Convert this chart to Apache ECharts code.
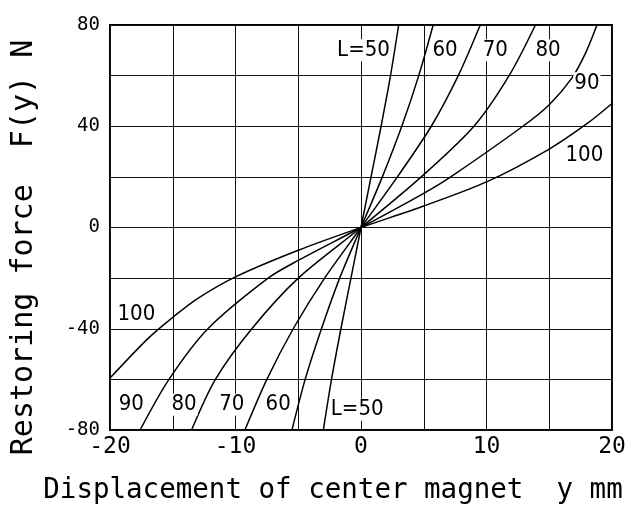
<!DOCTYPE html>
<html>
<head>
<meta charset="utf-8">
<script src="https://cdn.jsdelivr.net/npm/echarts@6/dist/echarts.min.js"></script>
<style>
  html, body { margin: 0; padding: 0; background: #fff; }
  #chart { width: 629px; height: 510px; }
</style>
</head>
<body>
<div id="chart"></div>
<script>
// Axis ranges and tick labels
const xRange = [-20, 20];
const yRange = [-80, 80];
const xTickLabels = [-20, -10, 0, 10, 20];
const yTickLabels = [-80, -40, 0, 40, 80];

// Curves: [displacement y (mm), restoring force F(y) (N)]
const curveL50 = [[-3.0, -80], [-2.35, -60], [-1.6, -40], [-0.8, -20], [0, 0], [0.8, 20], [1.6, 40], [2.35, 60], [3.0, 80]];
const curveL60 = [[-5.5, -80], [-4.45, -60], [-3.15, -40], [-1.7, -20], [0, 0], [1.7, 20], [3.25, 40], [4.6, 60], [5.75, 80]];
const curveL70 = [[-9.25, -80], [-7.5, -60], [-5.4, -40], [-2.9, -20], [0, 0], [2.9, 20], [5.6, 40], [7.75, 60], [9.5, 80]];
const curveL80 = [[-13.5, -80], [-11.6, -60], [-8.7, -40], [-5, -20], [0, 0], [4.8, 20], [9.0, 40], [11.8, 60], [13.9, 80]];
const curveL90 = [[-17.6, -80], [-15.3, -60], [-12.2, -40], [-7.4, -20], [-5, -13], [0, 0], [5, 13.5], [7, 19.5], [12.9, 40], [15, 48.5], [16.8, 59], [17.9, 69], [18.8, 80]];
const curveL100 = [[-20, -59.5], [-17, -44], [-15, -35.5], [-13, -28], [-10, -19.5], [-5, -9], [0, 0], [5, 8.5], [10, 18], [15, 31], [18, 41], [20, 49]];

// Curve annotations: [x, y, text]
const curveLabels = [
  [0.2, 70, 'L=50'], [6.7, 70, '60'], [10.7, 70, '70'], [14.9, 70, '80'], [18.0, 57, '90'], [17.8, 28.7, '100'],
  [-17.9, -34.2, '100'], [-18.3, -70, '90'], [-14.1, -70, '80'], [-10.3, -70, '70'], [-6.6, -70, '60'], [-0.3, -72, 'L=50']
];

const xTitle = 'Displacement of center magnet  y mm';
const yTitle = 'Restoring force  F(y) N';

const MONO = "'DejaVu Sans Mono', 'Liberation Mono', monospace";
const NARROW = "'Liberation Sans Narrow', 'DejaVu Sans Condensed', 'Roboto Condensed', 'Liberation Sans', sans-serif";

const chart = echarts.init(document.getElementById('chart'), null, { renderer: 'canvas' });

function curve(name, data) {
  return {
    name: name, type: 'line', data: data, smooth: 0.3,
    showSymbol: false, symbol: 'none',
    lineStyle: { color: '#000', width: 1.5 }, z: 3, silent: true
  };
}

const option = {
  backgroundColor: '#fff',
  animation: false,
  grid: { left: 110, right: 17, top: 25, bottom: 80, show: true, borderColor: '#000', borderWidth: 2, backgroundColor: 'transparent' },
  xAxis: {
    type: 'value', min: xRange[0], max: xRange[1], interval: 5,
    axisLine: { show: false, onZero: false },
    axisTick: { show: false },
    splitLine: { show: true, lineStyle: { color: '#111', width: 1 } },
    axisLabel: {
      margin: 6, color: '#000', fontFamily: MONO, fontSize: 23,
      formatter: v => xTickLabels.indexOf(v) >= 0 ? String(v) : ''
    },
    name: xTitle, nameLocation: 'middle', nameGap: 47,
    nameTextStyle: { fontFamily: MONO, fontSize: 27.5, color: '#000', padding: [0, 56, 0, 0] }
  },
  yAxis: {
    type: 'value', min: yRange[0], max: yRange[1], interval: 20,
    axisLine: { show: false, onZero: false },
    axisTick: { show: false },
    splitLine: { show: true, lineStyle: { color: '#111', width: 1 } },
    axisLabel: {
      margin: 10, color: '#000', fontFamily: MONO, fontSize: 19,
      formatter: v => yTickLabels.indexOf(v) >= 0 ? String(v) : ''
    },
    name: yTitle, nameLocation: 'middle', nameGap: 71,
    nameTextStyle: { fontFamily: MONO, fontSize: 30, color: '#000', padding: [0, 40, 0, 0] }
  },
  series: [
    curve('L=50', curveL50),
    curve('L=60', curveL60),
    curve('L=70', curveL70),
    curve('L=80', curveL80),
    curve('L=90', curveL90),
    curve('L=100', curveL100),
    {
      name: 'labels', type: 'scatter', symbolSize: 0, z: 5, silent: true,
      itemStyle: { opacity: 1 },
      data: curveLabels.map(d => ({ value: [d[0], d[1]], name: d[2] })),
      label: {
        show: true, position: 'inside', formatter: p => p.name, opacity: 1,
        color: '#000', fontFamily: NARROW, fontSize: 22,
        backgroundColor: '#fff', padding: [0, 1, 0, 1]
      }
    }
  ]
};

chart.setOption(option);
</script>
</body>
</html>
